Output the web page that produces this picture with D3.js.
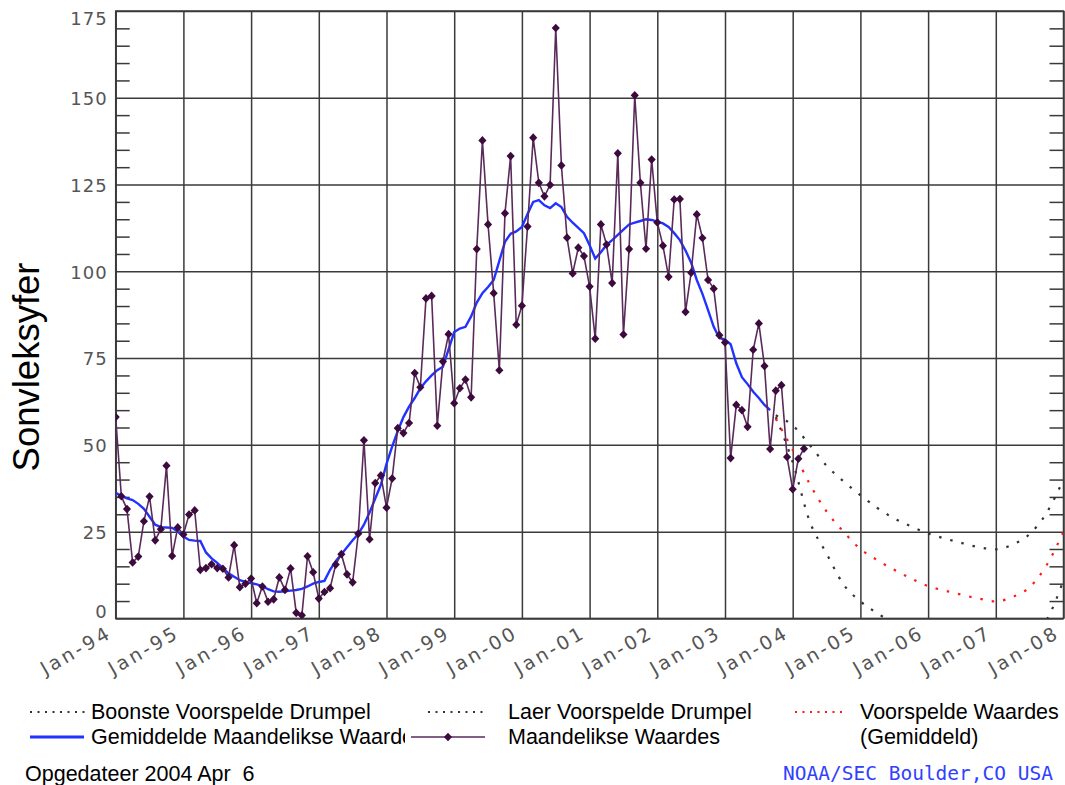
<!DOCTYPE html>
<html>
<head>
<meta charset="utf-8">
<script src="https://cdn.jsdelivr.net/npm/d3@7/dist/d3.min.js"></script>
<style>
  body { margin: 0; background: #fff; }
  svg  { display: block; }
  .tick-lbl { font-family: "DejaVu Sans", sans-serif; fill: #555; }
  .lgd      { font-family: "Liberation Sans", Arial, sans-serif; font-size: 21.5px; fill: #000; }
</style>
</head>
<body>
<svg id="chart" width="1065" height="785"></svg>
<script>
/* ── Data ───────────────────────────────────────────── */
// monthly sunspot numbers, Jan 1994 .. Mar 2004
const monthly = [
  58.0, 35.2, 31.5, 16.1, 17.8, 28.0, 35.1, 22.5, 25.7, 44.0, 18.0, 26.2,
  24.2, 29.9, 31.1, 14.0, 14.5, 15.6, 14.5, 14.3, 11.8, 21.1,  9.0, 10.0,
  11.5,  4.4,  9.2,  4.8,  5.5, 11.8,  8.2, 14.4,  1.6,  0.9, 17.9, 13.3,
   5.7,  7.6,  8.7, 15.5, 18.5, 12.7, 10.4, 24.4, 51.3, 22.8, 39.0, 41.2,
  31.9, 40.3, 54.8, 53.4, 56.3, 70.7, 66.6, 92.2, 92.9, 55.5, 74.0, 81.9,
  62.0, 66.3, 68.8, 63.7,106.4,137.7,113.5, 93.7, 71.5,116.7,133.2, 84.6,
  90.1,112.9,138.5,125.5,121.6,124.9,170.1,130.5,109.7, 99.4,106.8,104.4,
  95.6, 80.6,113.5,107.7, 96.6,134.0, 81.8,106.4,150.7,125.5,106.5,132.2,
 114.1,107.4, 98.4,120.7,120.8, 88.3, 99.6,116.4,109.6, 97.5, 95.0, 81.6,
  79.5, 46.2, 61.5, 60.0, 55.2, 77.4, 85.0, 72.7, 48.8, 65.6, 67.2, 46.5,
  37.2, 46.0, 48.9
];

// smoothed monthly values, Jan 1994 .. Sep 2003
const smoothed = [
  36.2, 35.3, 34.6, 34.1, 33.0, 31.6, 29.3, 27.0, 26.3, 26.2, 26.1, 25.0,
  23.6, 22.6, 22.4, 22.3, 19.0, 17.3, 16.0, 14.5, 13.0, 12.0, 11.0, 10.5,
  10.2,  9.8,  9.3,  8.4,  7.8,  7.7,  7.8,  8.0,  8.2,  8.5,  9.2, 10.0,
  10.5, 10.8, 14.0, 16.5, 18.5, 20.5, 22.5, 24.3, 27.0, 30.5, 34.5, 38.5,
  44.5, 49.5, 54.0, 58.0, 61.0, 63.5, 66.3, 68.3, 70.0, 71.5, 72.5, 77.5,
  82.5, 83.5, 84.0, 87.0, 91.0, 93.7, 95.5, 97.5,103.0,108.5,110.8,111.5,
 112.8,116.5,120.0,120.5,119.0,118.2,119.6,118.5,115.7,114.0,112.5,111.0,
 107.5,103.7,105.5,107.6,109.0,110.5,112.0,113.5,114.0,114.5,115.0,114.8,
 114.3,113.8,112.8,111.0,109.0,106.0,102.5, 97.5, 93.5, 88.8, 84.0, 80.8,
  80.3, 79.0, 73.5, 69.5, 67.5, 65.3, 63.5, 61.5, 60.0
];

// predictions (quarterly), Oct 2003 .. Jan 2008
const predYears = [2003.75, 2004, 2004.25, 2004.5, 2004.75, 2005, 2005.25, 2005.5, 2005.75,
                   2006, 2006.25, 2006.5, 2006.75, 2007, 2007.25, 2007.5, 2007.75, 2008];
const predUpper = [58.5, 55.6, 50.0, 44.0, 39.5, 35.5, 31.8, 28.8, 26.5,
                   24.5, 23.0, 21.7, 20.5, 19.9, 21.3, 24.3, 30.4, 40.0];
const predMid   = [57.5, 48.5, 38.8, 30.8, 25.0, 20.0, 16.8, 14.0, 11.5,
                    9.3,  8.0,  6.8,  5.7,  4.9,  6.2,  9.0, 15.3, 25.0];
const predLower = [58.0, 45.0, 28.0, 18.7,  9.8,  4.9,  1.5, -1.5, -4.0,
                   -6.0, -7.5, -8.5, -9.0, -9.0, -8.0, -5.5, -0.5, 11.0];

const startYear = 1994;
const yearTicks = d3.range(1994, 2009);
const yTicks    = [0, 25, 50, 75, 100, 125, 150, 175];
const yMinor    = d3.range(0, 176, 5).filter(v => v % 25 !== 0);

const yTitle    = 'Sonvleksyfer';
const lgdUpper  = 'Boonste Voorspelde Drumpel';
const lgdLower  = 'Laer Voorspelde Drumpel';
const lgdPred   = ['Voorspelde Waardes', '(Gemiddeld)'];
const lgdSmooth = 'Gemiddelde Maandelikse Waardes';
const lgdMonth  = 'Maandelikse Waardes';
const updated   = 'Opgedateer 2004 Apr  6';
const credit    = 'NOAA/SEC Boulder,CO USA';

/* ── Layout ─────────────────────────────────────────── */
const svg  = d3.select('#chart');
const P    = { left: 115.7, right: 1063.5, top: 11, bottom: 618.4 };
const pw   = P.right - P.left, ph = P.bottom - P.top;
const GRID = '#3a3a3a';

const x = d3.scaleLinear().domain([1994, 2008]).range([P.left, P.right]);
const y = d3.scaleLinear().domain([0, 175]).range([P.bottom, P.top]);
const mx = i => x(startYear + i / 12);

svg.append('defs').append('clipPath').attr('id', 'plotclip')
  .append('rect').attr('x', P.left).attr('y', P.top).attr('width', pw).attr('height', ph);
svg.select('defs').append('clipPath').attr('id', 'lgdclip')
  .append('rect').attr('x', 0).attr('y', 690).attr('width', 405).attr('height', 70);

/* ── Grid + axes ────────────────────────────────────── */
const gy = svg.append('g').attr('transform', `translate(${P.left},0)`)
  .call(d3.axisLeft(y).tickValues(yTicks).tickSize(-pw).tickPadding(8));
gy.select('.domain').remove();
gy.selectAll('line').attr('stroke', GRID).attr('stroke-width', 1.5);
gy.selectAll('text').attr('class', 'tick-lbl').style('font-size', '18px')
  .style('letter-spacing', '1px')
  .attr('dy', d => d === 0 ? '-0.05em' : d === 175 ? '0.75em' : '0.38em');

const gx = svg.append('g').attr('transform', `translate(0,${P.bottom})`)
  .call(d3.axisBottom(x).tickValues(yearTicks).tickSize(-ph)
    .tickFormat(d => 'Jan-' + String(d).slice(2)));
gx.select('.domain').remove();
gx.selectAll('line').attr('stroke', GRID).attr('stroke-width', 1.5);
gx.selectAll('text').attr('class', 'tick-lbl').style('font-size', '19px')
  .style('letter-spacing', '3px')
  .attr('text-anchor', 'end').attr('y', 0).attr('dy', 0)
  .attr('transform', 'translate(-3,18) rotate(-30)');

// inward minor ticks, left and right
const gmL = svg.append('g').attr('transform', `translate(${P.left},0)`)
  .call(d3.axisLeft(y).tickValues(yMinor).tickSize(-14).tickFormat(''));
const gmR = svg.append('g').attr('transform', `translate(${P.right},0)`)
  .call(d3.axisRight(y).tickValues(yMinor).tickSize(-14).tickFormat(''));
[gmL, gmR].forEach(g => {
  g.select('.domain').remove();
  g.selectAll('line').attr('stroke', GRID).attr('stroke-width', 1.5);
});

svg.append('rect').attr('x', P.left).attr('y', P.top).attr('width', pw).attr('height', ph)
  .attr('fill', 'none').attr('stroke', GRID).attr('stroke-width', 1.5);

/* ── Series ─────────────────────────────────────────── */
const plot = svg.append('g').attr('clip-path', 'url(#plotclip)');

const predLine = d3.line().x((d, i) => x(predYears[i])).y(d => y(d)).curve(d3.curveMonotoneX);
[[predUpper, '#333'], [predLower, '#333'], [predMid, '#ff1a1a']].forEach(([vals, col]) => {
  plot.append('path').attr('d', predLine(vals))
    .attr('fill', 'none').attr('stroke', col).attr('stroke-width', 2.2)
    .attr('stroke-dasharray', '2.5,9');
});

plot.append('path')
  .attr('d', d3.line().x((d, i) => mx(i)).y(d => y(d))(smoothed))
  .attr('fill', 'none').attr('stroke', '#2233ff').attr('stroke-width', 2.4);

plot.append('path')
  .attr('d', d3.line().x((d, i) => mx(i)).y(d => y(d))(monthly))
  .attr('fill', 'none').attr('stroke', '#5a2a5a').attr('stroke-width', 1.6);

const diamond = d3.symbol().type(d3.symbolDiamond).size(34);
plot.selectAll('.mk').data(monthly).join('path')
  .attr('class', 'mk').attr('d', diamond)
  .attr('transform', (d, i) => `translate(${mx(i)},${y(d)}) scale(1.3,0.8)`)
  .attr('fill', '#3c0a3c');

/* ── Y title ────────────────────────────────────────── */
svg.append('text').attr('transform', 'translate(39,367) rotate(-90)')
  .attr('text-anchor', 'middle')
  .style('font-family', '"Liberation Sans", Arial, sans-serif')
  .style('font-size', '36.5px').text(yTitle);

/* ── Legend ─────────────────────────────────────────── */
const lg = svg.append('g');
const r1 = 712, r2 = 737;
const dotted = (x1, x2, yy, col) => lg.append('line')
  .attr('x1', x1).attr('x2', x2).attr('y1', yy).attr('y2', yy)
  .attr('stroke', col).attr('stroke-width', 2).attr('stroke-dasharray', '2,5.5');

dotted(30, 86, r1, '#333');
lg.append('text').attr('class', 'lgd').attr('x', 91).attr('y', r1 + 7).text(lgdUpper);
dotted(428, 484, r1, '#333');
lg.append('text').attr('class', 'lgd').attr('x', 508).attr('y', r1 + 7).text(lgdLower);
dotted(795, 845, r1, '#ff1a1a');
lg.append('text').attr('class', 'lgd').attr('x', 860).attr('y', r1 + 7).text(lgdPred[0]);
lg.append('text').attr('class', 'lgd').attr('x', 860).attr('y', r2 + 7).text(lgdPred[1]);

lg.append('line').attr('x1', 30).attr('x2', 84).attr('y1', r2).attr('y2', r2)
  .attr('stroke', '#2233ff').attr('stroke-width', 3);
lg.append('text').attr('class', 'lgd').attr('x', 91).attr('y', r2 + 7)
  .attr('clip-path', 'url(#lgdclip)').text(lgdSmooth);
lg.append('line').attr('x1', 411).attr('x2', 485).attr('y1', r2).attr('y2', r2)
  .attr('stroke', '#5a2a5a').attr('stroke-width', 1.6);
lg.append('path').attr('d', diamond)
  .attr('transform', `translate(448,${r2}) scale(1.3,0.8)`).attr('fill', '#3c0a3c');
lg.append('text').attr('class', 'lgd').attr('x', 508).attr('y', r2 + 7).text(lgdMonth);

svg.append('text').attr('class', 'lgd').attr('x', 25).attr('y', 781)
  .style('white-space', 'pre').attr('xml:space', 'preserve').text(updated);
svg.append('text').attr('x', 783).attr('y', 780)
  .style('font-family', '"DejaVu Sans Mono", monospace').style('font-size', '19.5px')
  .style('fill', '#3040ff').style('white-space', 'pre').text(credit);
</script>
</body>
</html>
